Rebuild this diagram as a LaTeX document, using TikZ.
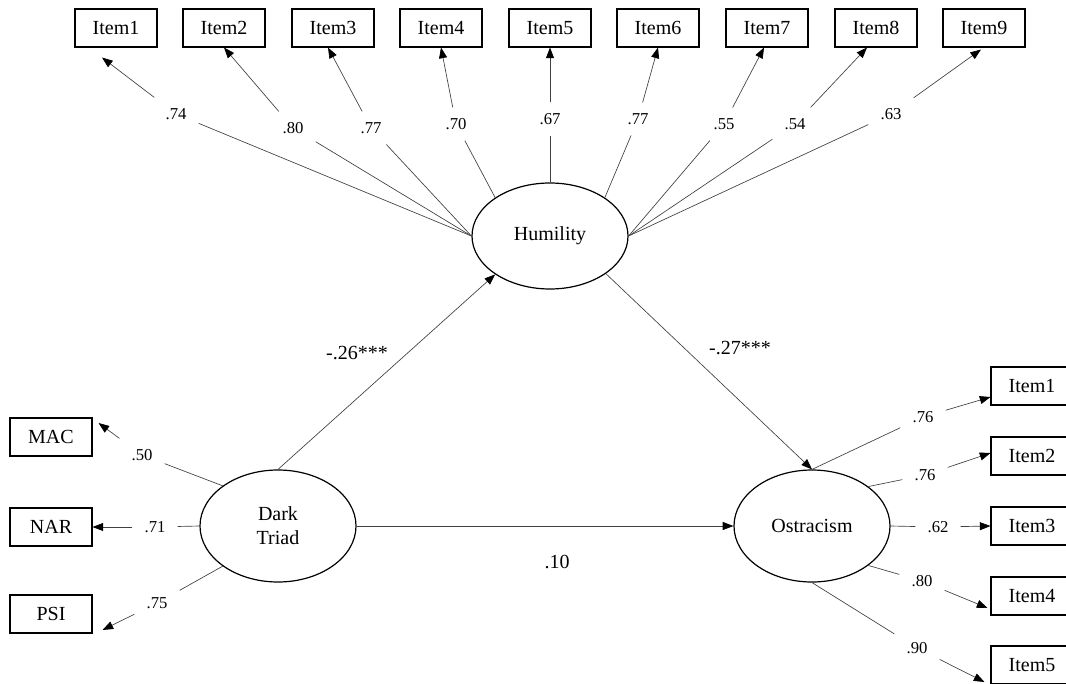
\documentclass[tikz,border=0pt]{standalone}
\usepackage{fontspec}
\setmainfont{Liberation Serif}
\usetikzlibrary{arrows.meta,shapes.geometric}

\begin{document}
\begin{tikzpicture}[
  x=0.75pt, y=-0.75pt,
  obs/.style={draw, line width=0.8pt, minimum width=61.5pt, minimum height=28.5pt, inner sep=0pt, font=\fontsize{15}{18}\selectfont},
  lat/.style={draw, ellipse, line width=0.9pt, minimum width=117pt, minimum height=84pt, inner sep=0pt, align=center, font=\fontsize{15}{18}\selectfont},
  coef/.style={inner xsep=9pt, inner ysep=8pt, font=\fontsize{12.5}{15}\selectfont},
  est/.style={font=\fontsize{15}{18}\selectfont},
  link/.style={draw=black!75, line width=0.5pt},
  arrow/.style={link, -{Triangle[length=8pt, width=6pt, color=black]}}
]
\useasboundingbox (0,0) rectangle (1066,684);

% latent variables
\node[lat, minimum height=79.5pt] (hum) at (550,236) {Humility};
\node[lat] (dt) at (278,526) {Dark\\Triad};
\node[lat] (ost) at (812,526) {Ostracism};

% humility items
\node[obs] (h1) at (116,28) {Item1};
\node[obs] (h2) at (224,28) {Item2};
\node[obs] (h3) at (333,28) {Item3};
\node[obs] (h4) at (441,28) {Item4};
\node[obs] (h5) at (550,28) {Item5};
\node[obs] (h6) at (658,28) {Item6};
\node[obs] (h7) at (767,28) {Item7};
\node[obs] (h8) at (876,28) {Item8};
\node[obs] (h9) at (984,28) {Item9};

% dark triad indicators
\node[obs] (mac) at (51,437) {MAC};
\node[obs] (nar) at (51,527) {NAR};
\node[obs] (psi) at (51,614) {PSI};

% ostracism items
\node[obs] (o1) at (1032,386) {Item1};
\node[obs] (o2) at (1032,456) {Item2};
\node[obs] (o3) at (1032,526) {Item3};
\node[obs] (o4) at (1032,596) {Item4};
\node[obs] (o5) at (1032,665) {Item5};

% loadings
\node[coef] (c1) at (176,114) {.74};
\node[coef] (c2) at (293,128) {.80};
\node[coef] (c3) at (371,128) {.77};
\node[coef] (c4) at (456,124) {.70};
\node[coef] (c5) at (550,119) {.67};
\node[coef] (c6) at (638,119) {.77};
\node[coef] (c7) at (724,124) {.55};
\node[coef] (c8) at (795,124) {.54};
\node[coef] (c9) at (891,114) {.63};

\node[coef] (cmac) at (142,455) {.50};
\node[coef] (cnar) at (155,527) {.71};
\node[coef] (cpsi) at (157,603) {.75};

\node[coef] (co1) at (923,417) {.76};
\node[coef] (co2) at (925,475) {.76};
\node[coef] (co3) at (938,527) {.62};
\node[coef] (co4) at (922,581) {.80};
\node[coef] (co5) at (917,648) {.90};

\draw[link] (hum.west) -- (c1);
\draw[arrow] (c1) -- ([shift={(-14,10)}]h1.south);
\draw[link] (hum.west) -- (c2);
\draw[arrow] (c2) -- (h2.south);
\draw[link] (hum.west) -- (c3);
\draw[arrow] (c3) -- ([shift={(-5,0)}]h3.south);
\draw[link] (hum.145) -- (c4);
\draw[arrow] (c4) -- (h4.south);
\draw[link] (hum.north) -- (c5);
\draw[arrow] (c5) -- (h5.south);
\draw[link] (hum.35) -- (c6);
\draw[arrow] (c6) -- (h6.south);
\draw[link] (hum.east) -- (c7);
\draw[arrow] (c7) -- ([shift={(-3,0)}]h7.south);
\draw[link] (hum.east) -- (c8);
\draw[arrow] (c8) -- ([shift={(-9,0)}]h8.south);
\draw[link] (hum.east) -- (c9);
\draw[arrow] (c9) -- ([shift={(-3,2)}]h9.south);

\draw[link] (dt.144) -- (cmac);
\draw[arrow] (cmac) -- ([shift={(6,-14)}]mac.east);
\draw[link] (dt.west) -- (cnar);
\draw[arrow] (cnar) -- (nar.east);
\draw[link] (dt.216) -- (cpsi);
\draw[arrow] (cpsi) -- ([shift={(10,16)}]psi.east);

\draw[link] (ost.north) -- (co1);
\draw[arrow] (co1) -- ([shift={(0,11)}]o1.west);
\draw[link] (ost.35) -- (co2);
\draw[arrow] (co2) -- ([shift={(0,-3)}]o2.west);
\draw[link] (ost.east) -- (co3);
\draw[arrow] (co3) -- (o3.west);
\draw[link] (ost.-35) -- (co4);
\draw[arrow] (co4) -- ([shift={(-3,12)}]o4.west);
\draw[link] (ost.south) -- (co5);
\draw[arrow] (co5) -- ([shift={(-6,17)}]o5.west);

% structural paths
\draw[arrow] (dt.north) -- (hum.215);
\draw[arrow] (hum.-34) -- (ost.north);
\draw[arrow] (dt.east) -- (ost.west);
\node[est] (b1) at (357,353) {-.26***};
\node[est] (b2) at (740,348) {-.27***};
\node[est] (b3) at (557,562) {.10};

\end{tikzpicture}
\end{document}
